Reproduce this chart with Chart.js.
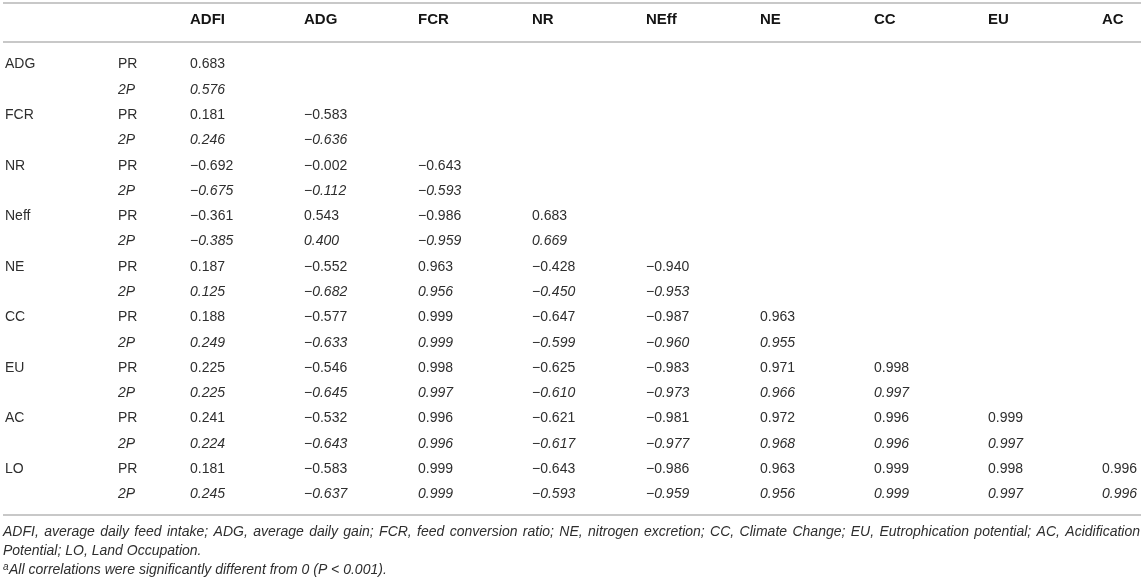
<!DOCTYPE html>
<html lang="en">
<head>
<meta charset="UTF-8">
<title>Correlation table</title>
<style>
  body{margin:0;background:#fff;}
  #wrap{width:1144px;height:583px;}
</style>
</head>
<body>
<div id="wrap"><canvas id="table-chart" width="1144" height="583"></canvas></div>
<script src="https://cdn.jsdelivr.net/npm/chart.js"></script>
<script>
// rows of the lower triangle and the column heads
const variables = ['ADG', 'FCR', 'NR', 'Neff', 'NE', 'CC', 'EU', 'AC', 'LO']
const columns = ['ADFI', 'ADG', 'FCR', 'NR', 'NEff', 'NE', 'CC', 'EU', 'AC']
const methods = ['PR', '2P']

const prValues = [
  [0.683],
  [0.181, -0.583],
  [-0.692, -0.002, -0.643],
  [-0.361, 0.543, -0.986, 0.683],
  [0.187, -0.552, 0.963, -0.428, -0.940],
  [0.188, -0.577, 0.999, -0.647, -0.987, 0.963],
  [0.225, -0.546, 0.998, -0.625, -0.983, 0.971, 0.998],
  [0.241, -0.532, 0.996, -0.621, -0.981, 0.972, 0.996, 0.999],
  [0.181, -0.583, 0.999, -0.643, -0.986, 0.963, 0.999, 0.998, 0.996]
]
const twoPValues = [
  [0.576],
  [0.246, -0.636],
  [-0.675, -0.112, -0.593],
  [-0.385, 0.400, -0.959, 0.669],
  [0.125, -0.682, 0.956, -0.450, -0.953],
  [0.249, -0.633, 0.999, -0.599, -0.960, 0.955],
  [0.225, -0.645, 0.997, -0.610, -0.973, 0.966, 0.997],
  [0.224, -0.643, 0.996, -0.617, -0.977, 0.968, 0.996, 0.997],
  [0.245, -0.637, 0.999, -0.593, -0.959, 0.956, 0.999, 0.997, 0.996]
]

const footLine1 = 'ADFI, average daily feed intake; ADG, average daily gain; FCR, feed conversion ratio; NE, nitrogen excretion; CC, Climate Change; EU, Eutrophication potential; AC, Acidification'
const footLine2 = 'Potential; LO, Land Occupation.'
const footNote = 'All correlations were significantly different from 0 (P < 0.001).'

// one point per table cell: x = column, y = row (1..18)
const cells = []
variables.forEach((v, i) => {
  prValues[i].forEach((val, j) => cells.push({x: j, y: i * 2 + 1, v: val, m: 0}))
  twoPValues[i].forEach((val, j) => cells.push({x: j, y: i * 2 + 2, v: val, m: 1}))
})

const FONT = '"Liberation Sans", Arial, Helvetica, sans-serif'
const TEXT = '#2e2e2e'
const RULE = '#c8c8c8'

function fmt(n) {
  const s = Math.abs(n).toFixed(3)
  return n < 0 ? '\u2212' + s : s
}

function drawJustified(ctx, text, x0, x1, y) {
  const words = text.split(' ')
  let wsum = 0
  words.forEach(w => { wsum += ctx.measureText(w).width })
  const gap = (x1 - x0 - wsum) / (words.length - 1)
  let x = x0
  words.forEach(w => {
    ctx.fillText(w, x, y)
    x += ctx.measureText(w).width + gap
  })
}

const tablePlugin = {
  id: 'tableText',
  afterDatasetsDraw(chart) {
    const ctx = chart.ctx
    const area = chart.chartArea
    const xs = chart.scales.x
    const ys = chart.scales.y
    const meta = chart.getDatasetMeta(0)
    ctx.save()
    ctx.textBaseline = 'middle'
    ctx.textAlign = 'left'

    // rules
    ctx.fillStyle = RULE
    ctx.fillRect(3, 2, 1138, 2)
    ctx.fillRect(3, area.top - 11, 1138, 2)
    ctx.fillRect(3, area.bottom + 7, 1138, 2)

    // column heads
    ctx.fillStyle = '#151515'
    ctx.font = 'bold 15px ' + FONT
    columns.forEach((c, k) => ctx.fillText(c, xs.getPixelForValue(k), 20))

    // row labels
    ctx.fillStyle = TEXT
    variables.forEach((v, i) => {
      ctx.font = '14px ' + FONT
      ctx.fillText(v, 5, ys.getPixelForValue(i * 2 + 1))
      methods.forEach((m, r) => {
        ctx.font = (r ? 'italic ' : '') + '14px ' + FONT
        ctx.fillText(m, 118, ys.getPixelForValue(i * 2 + 1 + r))
      })
    })

    // cell values at the point positions
    meta.data.forEach((el, idx) => {
      const c = cells[idx]
      ctx.font = (c.m ? 'italic ' : '') + '14px ' + FONT
      ctx.fillText(fmt(c.v), el.x, el.y)
    })

    // footnotes
    ctx.font = 'italic 14px ' + FONT
    const fy = area.bottom + 25
    drawJustified(ctx, footLine1, 3, 1140, fy)
    ctx.fillText(footLine2, 3, fy + 19)
    ctx.font = 'italic 10px ' + FONT
    ctx.fillText('a', 3, fy + 35)
    ctx.font = 'italic 14px ' + FONT
    ctx.fillText(footNote, 9, fy + 38)
    ctx.restore()
  }
}

new Chart(document.getElementById('table-chart'), {
  type: 'scatter',
  data: {
    datasets: [{
      data: cells,
      pointRadius: 0,
      pointHoverRadius: 0
    }]
  },
  options: {
    responsive: false,
    animation: false,
    events: [],
    layout: {padding: {left: 190, right: 42, top: 52, bottom: 76}},
    plugins: {legend: {display: false}, tooltip: {enabled: false}},
    scales: {
      x: {type: 'linear', min: 0, max: 8, display: false},
      y: {type: 'linear', min: 0.5, max: 18.5, reverse: true, display: false}
    }
  },
  plugins: [tablePlugin]
})
</script>
</body>
</html>
